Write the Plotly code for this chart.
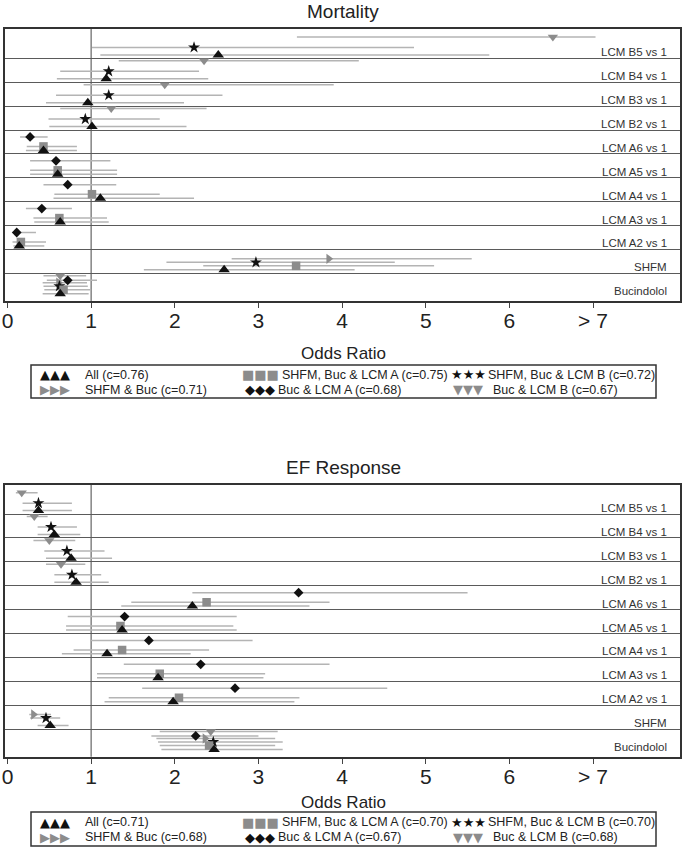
import plotly.graph_objects as go

# ---------------- data ----------------
rows = ["Bucindolol", "SHFM", "LCM A2 vs 1", "LCM A3 vs 1", "LCM A4 vs 1", "LCM A5 vs 1",
        "LCM A6 vs 1", "LCM B2 vs 1", "LCM B3 vs 1", "LCM B4 vs 1", "LCM B5 vs 1"]

series_names = ["All", "SHFM & Buc", "SHFM, Buc & LCM A", "Buc & LCM A",
                "SHFM, Buc & LCM B", "Buc & LCM B"]

x_tick_vals = [0, 1, 2, 3, 4, 5, 6, 7]
x_tick_text = ["0", "1", "2", "3", "4", "5", "6", "> 7"]

# Mortality: odds ratio, lower CI, upper CI (order = rows)
mort_all_or = [0.63, 2.59, 0.14, 0.63, 1.11, 0.60, 0.43, 1.01, 0.96, 1.18, 2.52]
mort_all_lo = [0.42, 1.63, 0.07, 0.32, 0.55, 0.27, 0.22, 0.50, 0.46, 0.59, 1.11]
mort_all_hi = [0.97, 4.15, 0.44, 1.21, 2.23, 1.31, 0.83, 2.14, 2.11, 2.40, 5.76]

mort_sb_or = [0.61, 3.84, None, None, None, None, None, None, None, None, None]
mort_sb_lo = [0.42, 2.68, None, None, None, None, None, None, None, None, None]
mort_sb_hi = [0.95, 5.55, None, None, None, None, None, None, None, None, None]

mort_sba_or = [0.67, 3.45, 0.16, 0.62, 1.01, 0.60, 0.43, None, None, None, None]
mort_sba_lo = [0.44, 2.34, 0.06, 0.31, 0.56, 0.27, 0.23, None, None, None, None]
mort_sba_hi = [1.00, 5.10, 0.46, 1.19, 1.82, 1.31, 0.83, None, None, None, None]

mort_ba_or = [0.72, None, 0.11, 0.41, 0.72, 0.58, 0.27, None, None, None, None]
mort_ba_lo = [0.47, None, 0.07, 0.22, 0.43, 0.27, 0.15, None, None, None, None]
mort_ba_hi = [1.07, None, 0.34, 0.77, 1.30, 1.23, 0.48, None, None, None, None]

mort_sbb_or = [0.62, 2.97, None, None, None, None, None, 0.93, 1.21, 1.21, 2.23]
mort_sbb_lo = [0.43, 1.90, None, None, None, None, None, 0.49, 0.58, 0.63, 1.01]
mort_sbb_hi = [0.96, 4.63, None, None, None, None, None, 1.82, 2.57, 2.29, 4.86]

mort_bb_or = [0.63, None, None, None, None, None, None, 1.24, 1.88, 2.35, 6.52]
mort_bb_lo = [0.43, None, None, None, None, None, None, 0.63, 0.91, 1.33, 3.46]
mort_bb_hi = [0.94, None, None, None, None, None, None, 2.38, 3.90, 4.20, 7.03]

mort_c = [0.76, 0.71, 0.75, 0.68, 0.72, 0.67]

# EF Response
ef_all_or = [2.47, 0.51, 1.98, 1.80, 1.19, 1.37, 2.21, 0.82, 0.76, 0.56, 0.37]
ef_all_lo = [1.84, 0.36, 1.16, 1.07, 0.65, 0.70, 1.36, 0.56, 0.46, 0.36, 0.18]
ef_all_hi = [3.29, 0.73, 3.43, 3.06, 2.19, 2.74, 3.61, 1.21, 1.25, 0.87, 0.77]

ef_sb_or = [2.36, 0.31, None, None, None, None, None, None, None, None, None]
ef_sb_lo = [1.78, 0.26, None, None, None, None, None, None, None, None, None]
ef_sb_hi = [3.20, 0.52, None, None, None, None, None, None, None, None, None]

ef_sba_or = [2.41, None, 2.05, 1.82, 1.37, 1.35, 2.38, None, None, None, None]
ef_sba_lo = [1.82, None, 1.21, 1.07, 0.79, 0.70, 1.48, None, None, None, None]
ef_sba_hi = [3.20, None, 3.49, 3.08, 2.41, 2.70, 3.85, None, None, None, None]

ef_ba_or = [2.25, None, 2.72, 2.31, 1.69, 1.40, 3.48, None, None, None, None]
ef_ba_lo = [1.72, None, 1.61, 1.39, 0.99, 0.72, 2.21, None, None, None, None]
ef_ba_hi = [3.00, None, 4.54, 3.85, 2.93, 2.74, 5.50, None, None, None, None]

ef_sbb_or = [2.46, 0.46, None, None, None, None, None, 0.77, 0.71, 0.52, 0.37]
ef_sbb_lo = [1.80, 0.27, None, None, None, None, None, 0.56, 0.44, 0.36, 0.18]
ef_sbb_hi = [3.29, 0.63, None, None, None, None, None, 1.12, 1.16, 0.83, 0.77]

ef_bb_or = [2.43, None, None, None, None, None, None, 0.64, 0.50, 0.32, 0.17]
ef_bb_lo = [1.82, None, None, None, None, None, None, 0.46, 0.31, 0.23, 0.10]
ef_bb_hi = [3.23, None, None, None, None, None, None, 0.93, 0.81, 0.48, 0.36]

ef_c = [0.71, 0.68, 0.70, 0.67, 0.70, 0.68]

# ---------------- styles ----------------
BLACK = "#111111"
GRAY = "#8c8c8c"
CI_COLOR = "#b4b4b4"
FONT = "Liberation Sans, Arial, sans-serif"

# symbol, color, size, vertical offset (px from row top; row = 24 px)
styles = [
    ("triangle-up", BLACK, 10, 20.5),
    ("triangle-right", GRAY, 9, 9.5),
    ("square", GRAY, 8.5, 16.5),
    ("diamond", BLACK, 7.5, 7.0),
    ("star", BLACK, 9, 13.0),
    ("triangle-down", GRAY, 9, 2.5),
]
legend_glyph = ["▲▲▲", "▶▶▶", "■■■", "◆◆◆", "★★★", "▼▼▼"]
ROW_PX = 24.0

panels = [
    dict(title="Mortality", xa="x", ya="y", c=mort_c,
         data=[(mort_all_or, mort_all_lo, mort_all_hi), (mort_sb_or, mort_sb_lo, mort_sb_hi),
               (mort_sba_or, mort_sba_lo, mort_sba_hi), (mort_ba_or, mort_ba_lo, mort_ba_hi),
               (mort_sbb_or, mort_sbb_lo, mort_sbb_hi), (mort_bb_or, mort_bb_lo, mort_bb_hi)],
         title_py=12, xtitle_py=353, box=(31, 656, 365, 398), leg_rows=(374.5, 389.5)),
    dict(title="EF Response", xa="x2", ya="y2", c=ef_c,
         data=[(ef_all_or, ef_all_lo, ef_all_hi), (ef_sb_or, ef_sb_lo, ef_sb_hi),
               (ef_sba_or, ef_sba_lo, ef_sba_hi), (ef_ba_or, ef_ba_lo, ef_ba_hi),
               (ef_sbb_or, ef_sbb_lo, ef_sbb_hi), (ef_bb_or, ef_bb_lo, ef_bb_hi)],
         title_py=467, xtitle_py=802, box=(31, 656, 812, 846), leg_rows=(822, 837)),
]

W, H = 686, 856
ML, MR = 5, 6


def px_x(p):
    return (p - ML) / (W - ML - MR)


def px_y(p):
    return 1 - p / H


fig = go.Figure()

for pan in panels:
    # CI lines first
    cx, cy = [], []
    for (orv, lo, hi), st in zip(pan["data"], styles):
        for k in range(len(rows)):
            if orv[k] is None:
                continue
            yy = k + 0.5 - st[3] / ROW_PX
            cx += [lo[k], hi[k], None]
            cy += [yy, yy, None]
    fig.add_trace(go.Scatter(x=cx, y=cy, mode="lines", xaxis=pan["xa"], yaxis=pan["ya"],
                             line=dict(color=CI_COLOR, width=1.5), hoverinfo="skip",
                             showlegend=False))
    # markers
    order = [5, 3, 1, 4, 2, 0]
    for i in order:
        orv, lo, hi = pan["data"][i]
        sym, col, size, off = styles[i]
        xs, ys = [], []
        for k in range(len(rows)):
            if orv[k] is None:
                continue
            xs.append(orv[k])
            ys.append(k + 0.5 - off / ROW_PX)
        fig.add_trace(go.Scatter(x=xs, y=ys, mode="markers", xaxis=pan["xa"], yaxis=pan["ya"],
                                 marker=dict(symbol=sym, color=col, size=size, line=dict(width=0)),
                                 name=series_names[i], showlegend=False))

axis_common_x = dict(range=[-0.03, 8.04], tickvals=x_tick_vals, ticktext=x_tick_text,
                     ticks="outside", ticklen=5, tickcolor="#444", tickwidth=1,
                     ticklabelstandoff=-5,
                     showgrid=False, zeroline=False, showline=True, mirror=True,
                     linecolor="#333", linewidth=2, automargin=False,
                     tickfont=dict(family=FONT, size=21, color="#222"))
axis_common_y = dict(range=[-0.66, 10.73], tickvals=[k + 0.5 for k in range(len(rows) - 1)],
                     showticklabels=False, ticks="", showgrid=True, gridcolor="#5a5a5a",
                     gridwidth=1.4, zeroline=False, showline=True, mirror=True,
                     linecolor="#333", linewidth=2, automargin=False)

fig.update_layout(
    width=W, height=H, margin=dict(l=ML, r=MR, t=0, b=0, autoexpand=False),
    paper_bgcolor="white", plot_bgcolor="white", showlegend=False,
    xaxis=dict(domain=[0, 1], anchor="y", **axis_common_x),
    yaxis=dict(domain=[px_y(301), px_y(29)], anchor="x", **axis_common_y),
    xaxis2=dict(domain=[0, 1], anchor="y2", **axis_common_x),
    yaxis2=dict(domain=[px_y(756.7), px_y(484.7)], anchor="x2", **axis_common_y),
)

shapes = []
annotations = []
for pan in panels:
    xa, ya = pan["xa"], pan["ya"]
    shapes.append(dict(type="line", xref=xa, yref=ya + " domain", x0=1, x1=1, y0=0, y1=1,
                       line=dict(color="#7a7a7a", width=1.4), layer="below"))
    # row labels
    for k, lab in enumerate(rows):
        annotations.append(dict(text=lab, xref="paper", yref=ya, x=px_x(669), y=k - 0.25,
                                xanchor="right", yanchor="middle", showarrow=False,
                                font=dict(family=FONT, size=11.5, color="#333")))
    # titles
    annotations.append(dict(text=pan["title"], xref="paper", yref="paper", x=px_x(343),
                            y=px_y(pan["title_py"]), xanchor="center", yanchor="middle",
                            showarrow=False, font=dict(family=FONT, size=19, color="#222")))
    annotations.append(dict(text="Odds Ratio", xref="paper", yref="paper", x=px_x(343),
                            y=px_y(pan["xtitle_py"]), xanchor="center", yanchor="middle",
                            showarrow=False, font=dict(family=FONT, size=17, color="#222")))
    # legend box
    bx0, bx1, by0, by1 = pan["box"]
    shapes.append(dict(type="rect", xref="paper", yref="paper", x0=px_x(bx0), x1=px_x(bx1),
                       y0=px_y(by1), y1=px_y(by0), line=dict(color="#333", width=1.5),
                       fillcolor="white"))
    # legend entries: (symbol x, text x) in px, and which legend row
    sym_x = [(38, 83), (38, 83), (240, 280), (243, 276), (449, 486), (451, 491)]
    grid_row = [0, 1, 0, 1, 0, 1]
    for i in range(6):
        yy = px_y(pan["leg_rows"][grid_row[i]])
        annotations.append(dict(text=legend_glyph[i], xref="paper", yref="paper",
                                x=px_x(sym_x[i][0]), y=yy, xanchor="left", yanchor="middle",
                                showarrow=False,
                                font=dict(family="DejaVu Sans", size=13, color=styles[i][1])))
        annotations.append(dict(text=f"{series_names[i]} (c={pan['c'][i]:.2f})", xref="paper",
                                yref="paper", x=px_x(sym_x[i][1]), y=yy, xanchor="left",
                                yanchor="middle", showarrow=False,
                                font=dict(family=FONT, size=12.5, color="#222")))

fig.update_layout(shapes=shapes, annotations=annotations)
fig.write_html("out.html", config={"displayModeBar": False},
               post_script="document.body.style.margin='0';")
